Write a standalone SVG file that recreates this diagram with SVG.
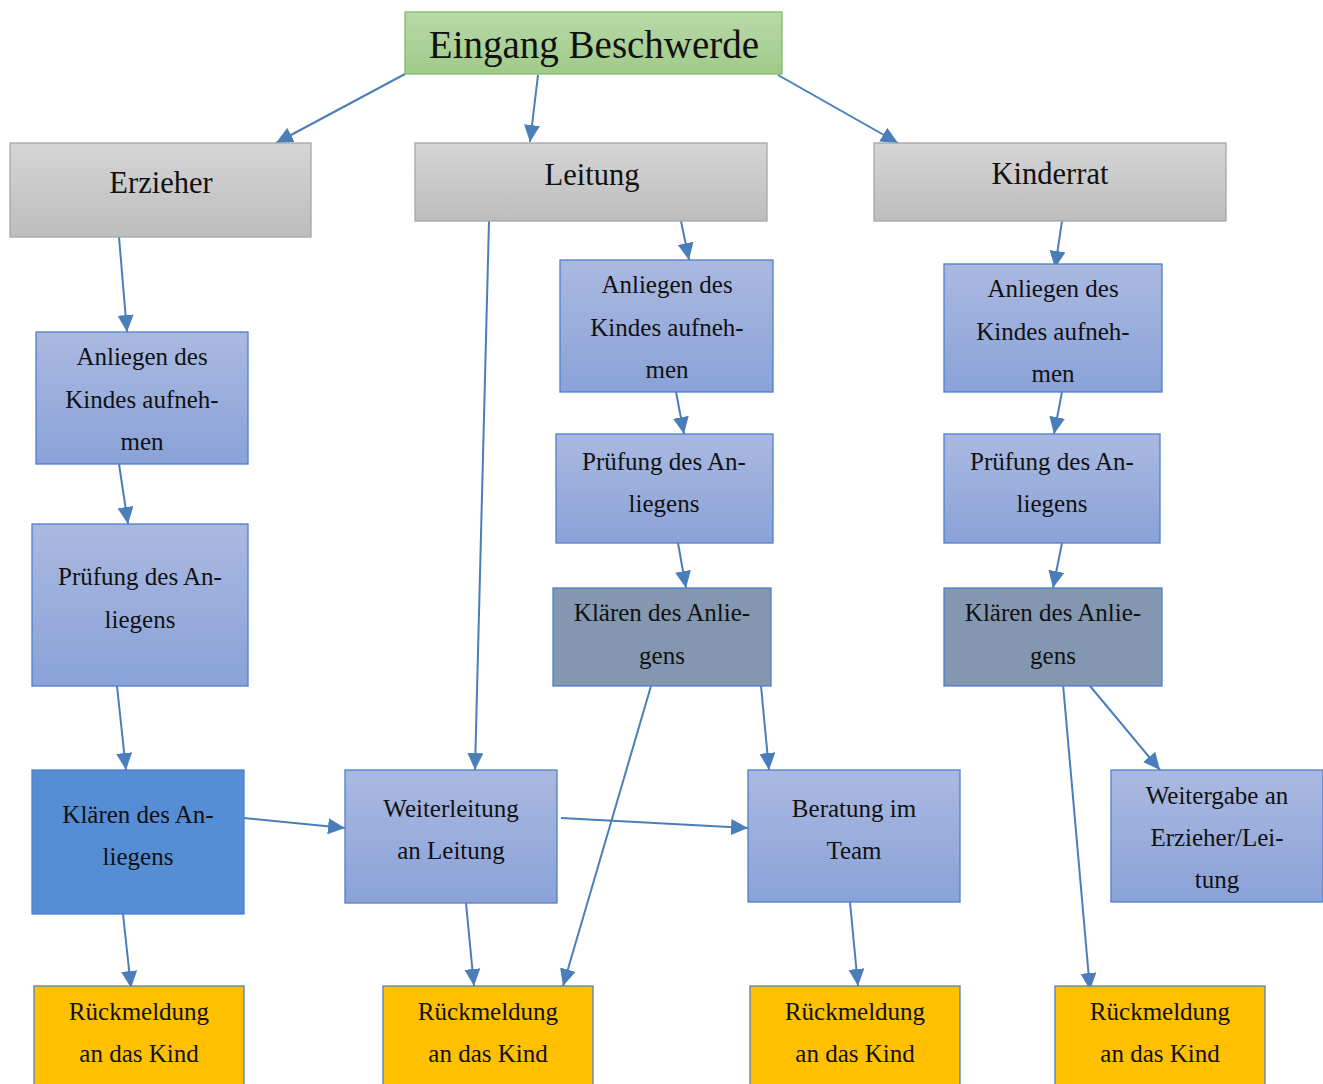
<svg xmlns="http://www.w3.org/2000/svg" width="1323" height="1084" viewBox="0 0 1323 1084">
<defs>
<linearGradient id="gGreen" x1="0" y1="0" x2="0" y2="1"><stop offset="0" stop-color="#b9d9a8"/><stop offset="1" stop-color="#9fca88"/></linearGradient>
<linearGradient id="gGray" x1="0" y1="0" x2="0" y2="1"><stop offset="0" stop-color="#d5d5d5"/><stop offset="1" stop-color="#bdbdbd"/></linearGradient>
<linearGradient id="gBlue" x1="0" y1="0" x2="0" y2="1"><stop offset="0" stop-color="#aab9e1"/><stop offset="1" stop-color="#8aa2d8"/></linearGradient>
<marker id="arr" markerUnits="userSpaceOnUse" markerWidth="18" markerHeight="16" viewBox="0 0 18 16" refX="17" refY="8" orient="auto">
<path d="M0,0 L17,8 L0,16 Z" fill="#4a7ebb"/>
</marker>
</defs>
<style>
.t{font-family:"Liberation Serif","Times New Roman",serif;font-size:25px;fill:#111;text-anchor:middle}
.h{font-size:30.5px}
.blue{fill:url(#gBlue);stroke:#4f7fcc;stroke-width:1.3}
.gray{fill:url(#gGray);stroke:#a6a6a6;stroke-width:1.3}
.slate{fill:#8497b0;stroke:#4f7fcc;stroke-width:1.3}
.dark{fill:#558ed5;stroke:#4f7fcc;stroke-width:1.3}
.gold{fill:#ffc000;stroke:#4f7fcc;stroke-width:1.3}
.c{stroke:#4a7ebb;stroke-width:2;fill:none;marker-end:url(#arr)}
</style>
<rect width="1323" height="1084" fill="#ffffff"/>

<g id="connectors">
<line class="c" x1="405" y1="74" x2="276" y2="143"/>
<line class="c" x1="538" y1="75" x2="530" y2="142"/>
<line class="c" x1="778" y1="75" x2="898" y2="143"/>
<line class="c" x1="119" y1="237" x2="127" y2="332"/>
<line class="c" x1="119" y1="464" x2="128" y2="524"/>
<line class="c" x1="117" y1="686" x2="126" y2="770"/>
<line class="c" x1="123" y1="914" x2="131" y2="988"/>
<line class="c" x1="244" y1="818" x2="345" y2="828"/>
<line class="c" x1="489" y1="221" x2="475" y2="770"/>
<line class="c" x1="466" y1="903" x2="474" y2="986"/>
<line class="c" x1="651" y1="686" x2="563" y2="986"/>
<line class="c" x1="561" y1="818" x2="748" y2="828"/>
<line class="c" x1="681" y1="221" x2="689" y2="260"/>
<line class="c" x1="676" y1="392" x2="684" y2="434"/>
<line class="c" x1="678" y1="543" x2="686" y2="588"/>
<line class="c" x1="761" y1="686" x2="769" y2="770"/>
<line class="c" x1="850" y1="902" x2="858" y2="986"/>
<line class="c" x1="1062" y1="221" x2="1055" y2="268"/>
<line class="c" x1="1062" y1="392" x2="1054" y2="434"/>
<line class="c" x1="1062" y1="543" x2="1053" y2="588"/>
<line class="c" x1="1063" y1="684" x2="1090" y2="990"/>
<line class="c" x1="1090" y1="686" x2="1160" y2="770"/>
</g>

<g id="eingang">
<rect x="405" y="12" width="377" height="62" fill="url(#gGreen)" stroke="#82bb6c" stroke-width="1.3"/>
<text class="t" x="594" y="58" style="font-size:39px">Eingang Beschwerde</text>
</g>
<g id="erzieher">
<rect class="gray" x="10" y="143" width="301" height="94"/>
<text class="t h" x="161" y="193">Erzieher</text>
</g>
<g id="leitung">
<rect class="gray" x="415" y="143" width="352" height="78"/>
<text class="t h" x="592" y="185">Leitung</text>
</g>
<g id="kinderrat">
<rect class="gray" x="874" y="143" width="352" height="78"/>
<text class="t h" x="1050" y="184">Kinderrat</text>
</g>

<g id="e-anliegen">
<rect class="blue" x="36" y="332" width="212" height="132"/>
<text class="t" x="142" y="365">Anliegen des</text>
<text class="t" x="142" y="408">Kindes aufneh-</text>
<text class="t" x="142" y="450">men</text>
</g>
<g id="e-pruefung">
<rect class="blue" x="32" y="524" width="216" height="162"/>
<text class="t" x="140" y="585">Prüfung des An-</text>
<text class="t" x="140" y="628">liegens</text>
</g>
<g id="e-klaeren">
<rect class="dark" x="32" y="770" width="212" height="144"/>
<text class="t" x="138" y="823">Klären des An-</text>
<text class="t" x="138" y="865">liegens</text>
</g>
<g id="e-rueck">
<rect class="gold" x="34" y="986" width="210" height="110"/>
<text class="t" x="139" y="1020">Rückmeldung</text>
<text class="t" x="139" y="1062">an das Kind</text>
</g>

<g id="weiterleitung">
<rect class="blue" x="345" y="770" width="212" height="133"/>
<text class="t" x="451" y="817">Weiterleitung</text>
<text class="t" x="451" y="859">an Leitung</text>
</g>
<g id="w-rueck">
<rect class="gold" x="383" y="986" width="210" height="110"/>
<text class="t" x="488" y="1020">Rückmeldung</text>
<text class="t" x="488" y="1062">an das Kind</text>
</g>

<g id="l-anliegen">
<rect class="blue" x="560" y="260" width="213" height="132"/>
<text class="t" x="667" y="293">Anliegen des</text>
<text class="t" x="667" y="336">Kindes aufneh-</text>
<text class="t" x="667" y="378">men</text>
</g>
<g id="l-pruefung">
<rect class="blue" x="556" y="434" width="217" height="109"/>
<text class="t" x="664" y="470">Prüfung des An-</text>
<text class="t" x="664" y="512">liegens</text>
</g>
<g id="l-klaeren">
<rect class="slate" x="553" y="588" width="218" height="98"/>
<text class="t" x="662" y="621">Klären des Anlie-</text>
<text class="t" x="662" y="664">gens</text>
</g>
<g id="beratung">
<rect class="blue" x="748" y="770" width="212" height="132"/>
<text class="t" x="854" y="817">Beratung im</text>
<text class="t" x="854" y="859">Team</text>
</g>
<g id="b-rueck">
<rect class="gold" x="750" y="986" width="210" height="110"/>
<text class="t" x="855" y="1020">Rückmeldung</text>
<text class="t" x="855" y="1062">an das Kind</text>
</g>

<g id="k-anliegen">
<rect class="blue" x="944" y="264" width="218" height="128"/>
<text class="t" x="1053" y="297">Anliegen des</text>
<text class="t" x="1053" y="340">Kindes aufneh-</text>
<text class="t" x="1053" y="382">men</text>
</g>
<g id="k-pruefung">
<rect class="blue" x="944" y="434" width="216" height="109"/>
<text class="t" x="1052" y="470">Prüfung des An-</text>
<text class="t" x="1052" y="512">liegens</text>
</g>
<g id="k-klaeren">
<rect class="slate" x="944" y="588" width="218" height="98"/>
<text class="t" x="1053" y="621">Klären des Anlie-</text>
<text class="t" x="1053" y="664">gens</text>
</g>
<g id="weitergabe">
<rect class="blue" x="1111" y="770" width="212" height="132"/>
<text class="t" x="1217" y="804">Weitergabe an</text>
<text class="t" x="1217" y="846">Erzieher/Lei-</text>
<text class="t" x="1217" y="888">tung</text>
</g>
<g id="k-rueck">
<rect class="gold" x="1055" y="986" width="210" height="110"/>
<text class="t" x="1160" y="1020">Rückmeldung</text>
<text class="t" x="1160" y="1062">an das Kind</text>
</g>
</svg>
